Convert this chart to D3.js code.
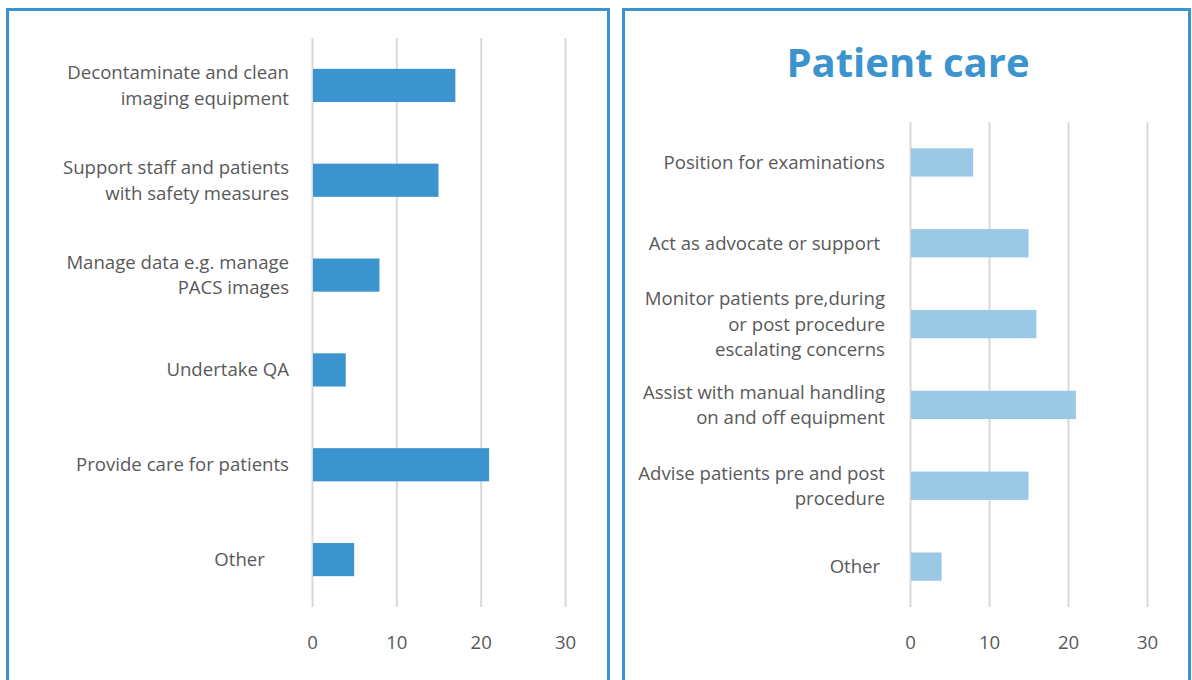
<!DOCTYPE html>
<html>
<head>
<meta charset="utf-8">
<script src="https://cdn.jsdelivr.net/npm/d3@7"></script>
<style>
  html, body { margin: 0; padding: 0; background: #fff; }
  svg { display: block; }
  text { font-family: "Open Sans", Lato, sans-serif; }
</style>
</head>
<body>
<svg id="chart" width="1192" height="680"></svg>
<script>
// Left panel: activities
const leftCategories = [
  ["Decontaminate and clean", "imaging equipment"],
  ["Support staff and patients", "with safety measures"],
  ["Manage data e.g. manage", "PACS images"],
  ["Undertake QA"],
  ["Provide care for patients"],
  ["Other     "]
];
const leftValues = [17, 15, 8, 4, 21, 5];

// Right panel: patient care
const rightTitle = "Patient care";
const rightCategories = [
  ["Position for examinations"],
  ["Act as advocate or support "],
  ["Monitor patients pre,during", "or post procedure", "escalating concerns"],
  ["Assist with manual handling", "on and off equipment"],
  ["Advise patients pre and post", "procedure"],
  ["Other "]
];
const rightValues = [8, 15, 16, 21, 15, 4];

const tickValues = [0, 10, 20, 30];

const svg = d3.select("#chart");
const borderColor = "#3c94ce";
const gridColor = "#d9d9d9";
const labelColor = "#595959";
const fontStack = "'Open Sans', Lato, sans-serif";

function panel(cfg) {
  const g = svg.append("g");
  // panel frame (extends past bottom edge)
  g.append("rect")
    .attr("x", cfg.frame[0]).attr("y", cfg.frame[1])
    .attr("width", cfg.frame[2]).attr("height", cfg.frame[3])
    .attr("fill", "none").attr("stroke", borderColor).attr("stroke-width", 3);

  const x = d3.scaleLinear().domain([0, 30]).range([cfg.x0, cfg.x1]);
  const y = d3.scaleBand().domain(d3.range(cfg.values.length))
    .range([cfg.y0, cfg.y1]).paddingInner(cfg.pad).paddingOuter(cfg.pad / 2);

  // vertical gridlines via axis
  const grid = g.append("g")
    .attr("transform", `translate(0,${cfg.y1})`)
    .call(d3.axisBottom(x).tickValues(tickValues).tickSize(-(cfg.y1 - cfg.y0)).tickFormat(""));
  grid.select(".domain").remove();
  grid.selectAll(".tick line").attr("stroke", gridColor).attr("stroke-width", 2);

  // tick labels
  const ax = g.append("g")
    .attr("transform", `translate(0,${cfg.tickY})`)
    .call(d3.axisBottom(x).tickValues(tickValues).tickSize(0).tickPadding(0));
  ax.select(".domain").remove();
  ax.selectAll("text").attr("fill", labelColor).attr("font-size", cfg.fontSize)
    .attr("font-family", fontStack);

  // bars
  g.selectAll("rect.bar").data(cfg.values).join("rect")
    .attr("class", "bar")
    .attr("x", x(0) + 1)
    .attr("y", (d, i) => y(i))
    .attr("width", d => x(d) - x(0) - 1)
    .attr("height", y.bandwidth())
    .attr("fill", cfg.barColor);

  // category labels
  const lh = 25.5;
  cfg.cats.forEach((lines, i) => {
    const cy = y(i) + y.bandwidth() / 2 - 1.5;
    const top = cy - (lines.length - 1) * lh / 2;
    const t = g.append("text")
      .attr("text-anchor", "end")
      .attr("fill", labelColor)
      .attr("font-size", cfg.fontSize)
      .attr("dominant-baseline", "central")
      .style("white-space", "pre");
    lines.forEach((ln, j) => {
      t.append("tspan").attr("x", cfg.labelX).attr("y", top + j * lh).text(ln);
    });
  });
  return g;
}

panel({
  frame: [7.5, 9.5, 601, 700],
  x0: 312, x1: 565, y0: 38, y1: 607, pad: 0.65,
  values: leftValues, cats: leftCategories, barColor: "#3c94ce",
  labelX: 289, fontSize: 18.6, tickY: 636
});

const right = panel({
  frame: [623.5, 9.5, 566, 700],
  x0: 910, x1: 1147, y0: 122, y1: 607, pad: 0.65,
  values: rightValues, cats: rightCategories, barColor: "#9ac8e5",
  labelX: 885, fontSize: 18.6, tickY: 636
});

right.append("text")
  .attr("x", 908).attr("y", 77)
  .attr("text-anchor", "middle")
  .attr("fill", "#3c94ce")
  .attr("font-size", 40)
  .attr("font-weight", "bold")
  .text(rightTitle);
</script>
</body>
</html>
